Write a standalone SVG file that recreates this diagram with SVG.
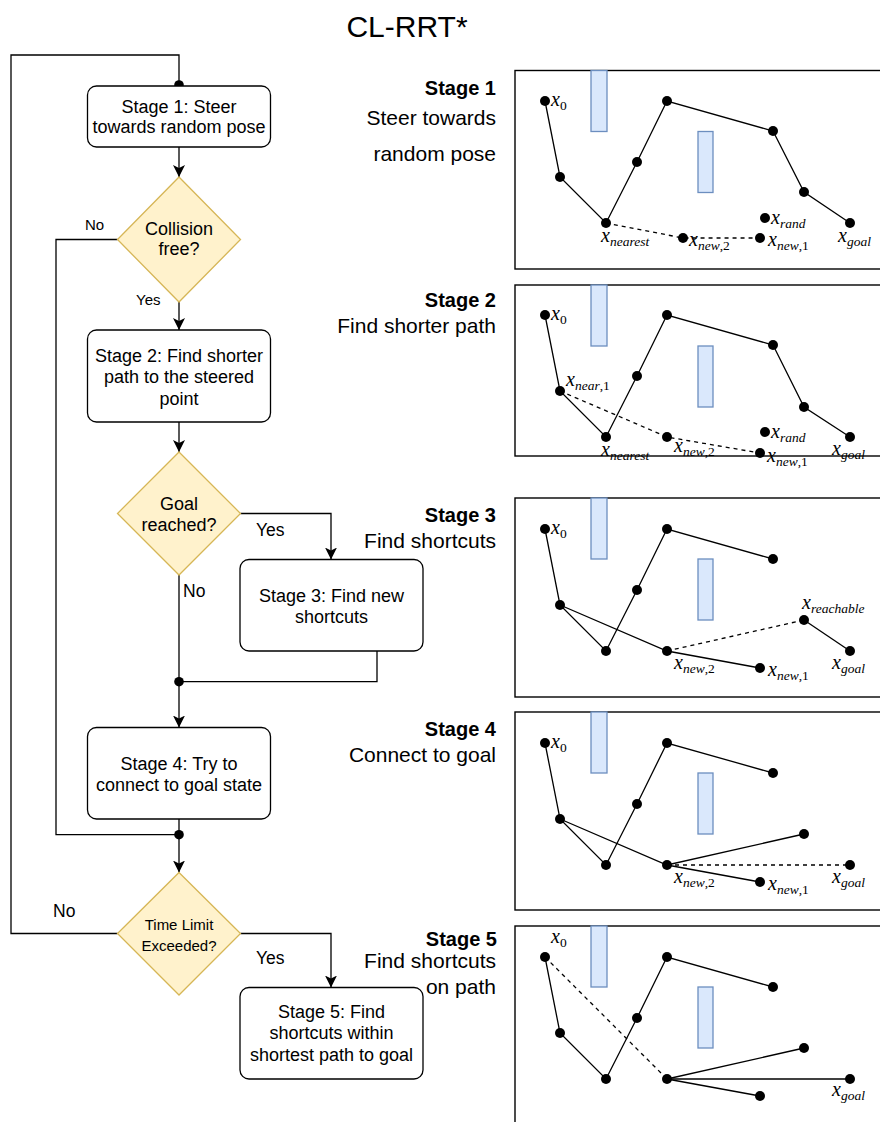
<svg xmlns="http://www.w3.org/2000/svg" width="880" height="1122" viewBox="0 0 880 1122">
<defs>
<marker id="arr" viewBox="0 0 12 12" refX="12" refY="6" markerWidth="12" markerHeight="12" markerUnits="userSpaceOnUse" orient="auto">
<path d="M0,0 L12,6 L0,12 L3,6 Z" fill="#000"/>
</marker>
<style>
text{font-family:"Liberation Sans",Arial,sans-serif;fill:#000}
.title{font-size:30px;text-anchor:middle}
.box{fill:#fff;stroke:#000;stroke-width:1.3}
.dia{fill:#fff2cc;stroke:#d6b656;stroke-width:1.3}
.bt{font-size:18px;text-anchor:middle}
.st{font-size:15px;text-anchor:middle}
.lbl{font-size:15px}
.lbl2{font-size:17.5px}
.con{fill:none;stroke:#000;stroke-width:1.3}
.dot{fill:#000}
.sh{font-size:20px;font-weight:bold;text-anchor:end}
.sd{font-size:21px;text-anchor:end}
.panel{fill:#fff;stroke:#000;stroke-width:1.4}
.obs{fill:#dae8fc;stroke:#6c8ebf;stroke-width:1.3}
.e{fill:none;stroke:#000;stroke-width:1.3}
.d{fill:none;stroke:#000;stroke-width:1.3;stroke-dasharray:4 4}
.m{font-family:"Liberation Serif","Times New Roman",serif;font-style:italic;font-size:20px}
.s{font-size:13.5px}
.n{font-style:normal}
</style>
</defs>
<text class="title" x="407" y="36.5">CL-RRT*</text>

<g id="connectors">
<path class="con" d="M117.5,933.5 H11 V55 H179 V85"/>
<path class="con" d="M179,147 V177" marker-end="url(#arr)"/>
<path class="con" d="M117.5,239.5 H56 V834.7 H179"/>
<path class="con" d="M179,302 V330" marker-end="url(#arr)"/>
<path class="con" d="M179,422 V452" marker-end="url(#arr)"/>
<path class="con" d="M240.5,513.5 H331 V559.5" marker-end="url(#arr)"/>
<path class="con" d="M179,575 V727.5" marker-end="url(#arr)"/>
<path class="con" d="M377,651 V681.7 H179"/>
<path class="con" d="M179,819 V872.5" marker-end="url(#arr)"/>
<path class="con" d="M240.5,933.5 H331 V987.5" marker-end="url(#arr)"/>
<circle class="dot" cx="179" cy="85" r="4.8"/>
<circle class="dot" cx="179" cy="681.7" r="4.8"/>
<circle class="dot" cx="179" cy="834.7" r="4.8"/>
<text class="lbl" x="85" y="230">No</text>
<text class="lbl" x="136" y="305">Yes</text>
<text class="lbl2" x="256" y="536">Yes</text>
<text class="lbl2" x="183" y="597">No</text>
<text class="lbl2" x="53" y="917">No</text>
<text class="lbl2" x="256" y="964">Yes</text>
</g>

<g id="stage1">
<rect class="box" x="87.5" y="86" width="183" height="61" rx="9"/>
<text class="bt" x="179" y="112.7">Stage 1: Steer</text>
<text class="bt" x="179" y="132.7">towards random pose</text>
</g>
<g id="collision">
<polygon class="dia" points="179,177 240.5,239.5 179,302 117.5,239.5"/>
<text class="bt" x="179" y="235">Collision</text>
<text class="bt" x="179" y="254.5">free?</text>
</g>
<g id="stage2">
<rect class="box" x="87.5" y="330" width="183" height="92" rx="9"/>
<text class="bt" x="179" y="361.7">Stage 2: Find shorter</text>
<text class="bt" x="179" y="383.3">path to the steered</text>
<text class="bt" x="179" y="405">point</text>
</g>
<g id="goal">
<polygon class="dia" points="179,452 240.5,513.5 179,575 117.5,513.5"/>
<text class="bt" x="179" y="510">Goal</text>
<text class="bt" x="179" y="530.7">reached?</text>
</g>
<g id="stage3">
<rect class="box" x="240" y="559.5" width="183" height="91.5" rx="9"/>
<text class="bt" x="331.5" y="601.7">Stage 3: Find new</text>
<text class="bt" x="331.5" y="622.7">shortcuts</text>
</g>
<g id="stage4">
<rect class="box" x="87.5" y="727.5" width="183" height="91.5" rx="9"/>
<text class="bt" x="179" y="770">Stage 4: Try to</text>
<text class="bt" x="179" y="790.7">connect to goal state</text>
</g>
<g id="timelimit">
<polygon class="dia" points="179,872.5 240.5,933.5 179,995 117.5,933.5"/>
<text class="st" x="179" y="930">Time Limit</text>
<text class="st" x="179" y="950.7">Exceeded?</text>
</g>
<g id="stage5">
<rect class="box" x="240" y="987.5" width="183" height="91.5" rx="9"/>
<text class="bt" x="331.5" y="1018.3">Stage 5: Find</text>
<text class="bt" x="331.5" y="1039.3">shortcuts within</text>
<text class="bt" x="331.5" y="1060.7">shortest path to goal</text>
</g>

<g id="labels">
<text class="sh" x="496" y="95">Stage 1</text>
<text class="sd" x="496" y="125">Steer towards</text>
<text class="sd" x="496" y="160.7">random pose</text>
<text class="sh" x="496" y="307">Stage 2</text>
<text class="sd" x="496" y="333">Find shorter path</text>
<text class="sh" x="496" y="522">Stage 3</text>
<text class="sd" x="496" y="548">Find shortcuts</text>
<text class="sh" x="496" y="736">Stage 4</text>
<text class="sd" x="496" y="762">Connect to goal</text>
<text class="sh" x="497" y="946">Stage 5</text>
<text class="sd" x="496" y="968">Find shortcuts</text>
<text class="sd" x="496" y="994">on path</text>
</g>

<g id="panel1">
<rect class="panel" x="515" y="70.5" width="400" height="198.5"/>
<rect class="obs" x="591" y="70.5" width="16" height="61"/>
<rect class="obs" x="698" y="131.5" width="15" height="61"/>
<polyline class="e" points="545,101 560,177 606,223 637,162 667,101 773,131 804,192 850,223"/>
<polyline class="d" points="606,223 683,238 760,238"/>
<g class="dot">
<circle cx="545" cy="101" r="5"/><circle cx="560" cy="177" r="5"/><circle cx="606" cy="223" r="5"/><circle cx="637" cy="162" r="5"/><circle cx="667" cy="101" r="5"/><circle cx="773" cy="131" r="5"/><circle cx="804" cy="192" r="5"/><circle cx="850" cy="223" r="5"/><circle cx="683" cy="238" r="5"/><circle cx="760" cy="238" r="5"/><circle cx="765" cy="218" r="5"/>
</g>
<text class="m" x="551" y="106">x<tspan class="s n" dy="4">0</tspan></text>
<text class="m" x="771" y="224">x<tspan class="s" dy="4">rand</tspan></text>
<text class="m" x="601" y="242">x<tspan class="s" dy="4">nearest</tspan></text>
<text class="m" x="689" y="246">x<tspan class="s" dy="4">new<tspan class="n">,2</tspan></tspan></text>
<text class="m" x="768" y="246">x<tspan class="s" dy="4">new<tspan class="n">,1</tspan></tspan></text>
<text class="m" x="838" y="242">x<tspan class="s" dy="4">goal</tspan></text>
</g>

<g id="panel2">
<rect class="panel" x="515" y="285" width="400" height="171"/>
<rect class="obs" x="591" y="285" width="16" height="61"/>
<rect class="obs" x="698" y="346" width="15" height="61"/>
<polyline class="e" points="545,315 560,391 606,437 637,376 667,315 773,345 804,407 850,437"/>
<polyline class="d" points="560,391 667,437 760,453"/>
<g class="dot">
<circle cx="545" cy="315" r="5"/><circle cx="560" cy="391" r="5"/><circle cx="606" cy="437" r="5"/><circle cx="637" cy="376" r="5"/><circle cx="667" cy="315" r="5"/><circle cx="773" cy="345" r="5"/><circle cx="804" cy="407" r="5"/><circle cx="850" cy="437" r="5"/><circle cx="667" cy="437" r="5"/><circle cx="760" cy="453" r="5"/><circle cx="765" cy="432" r="5"/>
</g>
<text class="m" x="551" y="320">x<tspan class="s n" dy="4">0</tspan></text>
<text class="m" x="566" y="386">x<tspan class="s" dy="4">near<tspan class="n">,1</tspan></tspan></text>
<text class="m" x="771" y="438">x<tspan class="s" dy="4">rand</tspan></text>
<text class="m" x="601" y="456">x<tspan class="s" dy="4">nearest</tspan></text>
<text class="m" x="674" y="452">x<tspan class="s" dy="4">new<tspan class="n">,2</tspan></tspan></text>
<text class="m" x="767" y="462">x<tspan class="s" dy="4">new<tspan class="n">,1</tspan></tspan></text>
<text class="m" x="832" y="455">x<tspan class="s" dy="4">goal</tspan></text>
</g>

<g id="panel3">
<rect class="panel" x="515" y="498" width="400" height="199"/>
<rect class="obs" x="591" y="498" width="16" height="61"/>
<rect class="obs" x="698" y="559" width="15" height="61"/>
<polyline class="e" points="545,529 560,605 606,651 637,590 667,529 773,559"/>
<polyline class="e" points="560,605 667,651 760,668"/>
<polyline class="e" points="804,620 850,651"/>
<polyline class="d" points="667,651 804,620"/>
<g class="dot">
<circle cx="545" cy="529" r="5"/><circle cx="560" cy="605" r="5"/><circle cx="606" cy="651" r="5"/><circle cx="637" cy="590" r="5"/><circle cx="667" cy="529" r="5"/><circle cx="773" cy="559" r="5"/><circle cx="804" cy="620" r="5"/><circle cx="850" cy="651" r="5"/><circle cx="667" cy="651" r="5"/><circle cx="760" cy="668" r="5"/>
</g>
<text class="m" x="551" y="534">x<tspan class="s n" dy="4">0</tspan></text>
<text class="m" x="802" y="609">x<tspan class="s" dy="4">reachable</tspan></text>
<text class="m" x="674" y="669">x<tspan class="s" dy="4">new<tspan class="n">,2</tspan></tspan></text>
<text class="m" x="768" y="676">x<tspan class="s" dy="4">new<tspan class="n">,1</tspan></tspan></text>
<text class="m" x="832" y="669">x<tspan class="s" dy="4">goal</tspan></text>
</g>

<g id="panel4">
<rect class="panel" x="515" y="712" width="400" height="198"/>
<rect class="obs" x="591" y="712" width="16" height="61"/>
<rect class="obs" x="698" y="773" width="15" height="61"/>
<polyline class="e" points="545,743 560,819 606,865 637,804 667,743 773,773"/>
<polyline class="e" points="560,819 667,865 760,882"/>
<polyline class="e" points="667,865 804,834"/>
<polyline class="d" points="667,865 850,865"/>
<g class="dot">
<circle cx="545" cy="743" r="5"/><circle cx="560" cy="819" r="5"/><circle cx="606" cy="865" r="5"/><circle cx="637" cy="804" r="5"/><circle cx="667" cy="743" r="5"/><circle cx="773" cy="773" r="5"/><circle cx="804" cy="834" r="5"/><circle cx="850" cy="865" r="5"/><circle cx="667" cy="865" r="5"/><circle cx="760" cy="882" r="5"/>
</g>
<text class="m" x="551" y="748">x<tspan class="s n" dy="4">0</tspan></text>
<text class="m" x="674" y="883">x<tspan class="s" dy="4">new<tspan class="n">,2</tspan></tspan></text>
<text class="m" x="768" y="890">x<tspan class="s" dy="4">new<tspan class="n">,1</tspan></tspan></text>
<text class="m" x="832" y="883">x<tspan class="s" dy="4">goal</tspan></text>
</g>

<g id="panel5">
<rect class="panel" x="515" y="926" width="400" height="220"/>
<rect class="obs" x="591" y="926" width="16" height="61"/>
<rect class="obs" x="698" y="987" width="15" height="61"/>
<polyline class="e" points="545,957 560,1033 606,1079 637,1018 667,957 773,987"/>
<polyline class="e" points="667,1079 760,1096"/>
<polyline class="e" points="667,1079 804,1048"/>
<polyline class="e" points="667,1079 850,1079"/>
<polyline class="d" points="545,957 667,1079"/>
<g class="dot">
<circle cx="545" cy="957" r="5"/><circle cx="560" cy="1033" r="5"/><circle cx="606" cy="1079" r="5"/><circle cx="637" cy="1018" r="5"/><circle cx="667" cy="957" r="5"/><circle cx="773" cy="987" r="5"/><circle cx="804" cy="1048" r="5"/><circle cx="850" cy="1079" r="5"/><circle cx="667" cy="1079" r="5"/><circle cx="760" cy="1096" r="5"/>
</g>
<text class="m" x="551" y="943">x<tspan class="s n" dy="4">0</tspan></text>
<text class="m" x="832" y="1096">x<tspan class="s" dy="4">goal</tspan></text>
</g>
</svg>
